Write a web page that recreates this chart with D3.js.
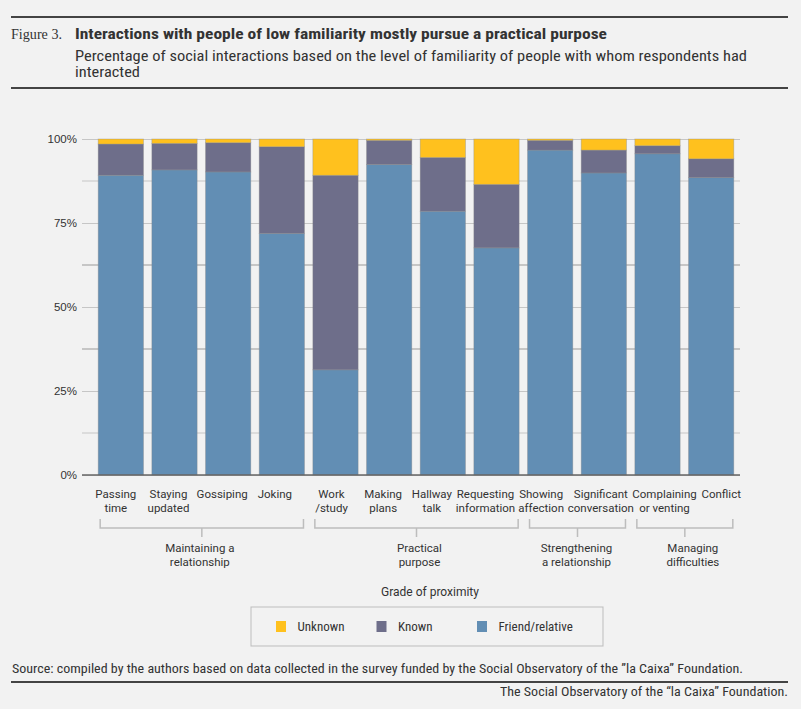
<!DOCTYPE html>
<html>
<head>
<meta charset="utf-8">
<script src="https://cdn.jsdelivr.net/npm/d3@7"></script>
<style>
  body { margin: 0; background: #f2f2f2; }
  svg { display: block; }
</style>
</head>
<body>
<svg id="chart" width="801" height="709" viewBox="0 0 801 709"></svg>
<script>
// data (percent of interactions)
const categories = ["Passing time", "Staying updated", "Gossiping", "Joking", "Work /study", "Making plans",
  "Hallway talk", "Requesting information", "Showing affection", "Significant conversation",
  "Complaining or venting", "Conflict"];
const labelLines = [["Passing", "time"], ["Staying", "updated"], ["Gossiping"], ["Joking"], ["Work", "/study"],
  ["Making", "plans"], ["Hallway", "talk"], ["Requesting", "information"], ["Showing", "affection"],
  ["Significant", "conversation"], ["Complaining", "or venting"], ["Conflict"]];
const friendRelative = [89.2, 90.8, 90.2, 71.9, 31.3, 92.4, 78.5, 67.6, 96.7, 89.9, 95.6, 88.5];
const known = [9.3, 7.9, 8.7, 25.8, 57.9, 7.2, 16.0, 18.9, 2.9, 6.8, 2.4, 5.6];
const unknown = [1.5, 1.3, 1.1, 2.3, 10.8, 0.4, 5.5, 13.5, 0.4, 3.3, 2.0, 5.9];
const seriesNames = ["Friend/relative", "Known", "Unknown"];
const legendOrder = ["Unknown", "Known", "Friend/relative"];
const groupLabels = [["Maintaining a", "relationship"], ["Practical", "purpose"],
  ["Strengthening", "a relationship"], ["Managing", "difficulties"]];
const groupFirst = [0, 4, 8, 10];
const groupLast = [3, 7, 9, 11];
const yTicks = [0, 25, 50, 75, 100];
const yMinor = [12.5, 37.5, 62.5, 87.5];

// layout nudges so the crowded x labels don't collide (px)
const labelNudge = [-5, -6, -6, -7, -4, -6, -11, -11, -9, -3, 7, 10];
const groupNudge = [-2, 3, -1, 8];

const colors = {"Friend/relative": "#628eb4", "Known": "#6e6e8a", "Unknown": "#ffc11e"};
const condensed = "'Liberation Sans Narrow', 'Roboto Condensed', 'DejaVu Sans Condensed', sans-serif";
const plainSans = "Roboto, 'Liberation Sans', sans-serif";

const svg = d3.select("#chart");

// header
svg.append("line").attr("x1", 11).attr("x2", 788).attr("y1", 17).attr("y2", 17)
  .attr("stroke", "#444").attr("stroke-width", 2);
svg.append("line").attr("x1", 11).attr("x2", 788).attr("y1", 88).attr("y2", 88)
  .attr("stroke", "#444").attr("stroke-width", 2);

svg.append("text")
  .attr("x", 11).attr("y", 39)
  .attr("font-family", "'Liberation Serif', serif")
  .attr("font-size", "14px")
  .attr("fill", "#333")
  .attr("textLength", 51).attr("lengthAdjust", "spacingAndGlyphs")
  .text("Figure 3.");

svg.append("text")
  .attr("x", 75).attr("y", 39)
  .attr("font-family", condensed)
  .attr("font-weight", "bold")
  .attr("font-size", "15px")
  .attr("fill", "#333")
  .attr("textLength", 532).attr("lengthAdjust", "spacingAndGlyphs")
  .text("Interactions with people of low familiarity mostly pursue a practical purpose");

svg.append("text")
  .attr("x", 75).attr("y", 61)
  .attr("font-family", condensed)
  .attr("font-size", "14px")
  .attr("fill", "#333")
  .attr("textLength", 672).attr("lengthAdjust", "spacingAndGlyphs")
  .text("Percentage of social interactions based on the level of familiarity of people with whom respondents had");

svg.append("text")
  .attr("x", 75).attr("y", 77)
  .attr("font-family", condensed)
  .attr("font-size", "14px")
  .attr("fill", "#333")
  .attr("textLength", 65).attr("lengthAdjust", "spacingAndGlyphs")
  .text("interacted");

// scales
const x = d3.scaleBand()
  .domain(categories)
  .range([94, 738])
  .paddingInner(0.156)
  .paddingOuter(0.078);

const y = d3.scaleLinear().domain([0, 100]).range([475, 139]);

// grid
const gridLeft = 82, gridRight = 740;
svg.append("g").selectAll("line")
  .data(yMinor)
  .join("line")
  .attr("x1", gridLeft).attr("x2", gridRight)
  .attr("y1", d => y(d)).attr("y2", d => y(d))
  .attr("stroke", d => (d === 37.5 || d === 62.5) ? "#9a9a9a" : "#c6c6c6")
  .attr("stroke-width", 1);

const yAxis = svg.append("g")
  .attr("transform", `translate(${gridLeft},0)`)
  .call(d3.axisLeft(y).tickValues(yTicks).tickSize(-(gridRight - gridLeft)).tickFormat(d => d + "%"));
yAxis.select(".domain").remove();
yAxis.selectAll(".tick line").attr("stroke", "#c6c6c6");
yAxis.selectAll(".tick text")
  .attr("x", -5)
  .attr("fill", "#333")
  .attr("font-family", "'Liberation Sans', Arial, sans-serif")
  .attr("font-size", "11.5px");

// stacked bars
const table = categories.map((c, i) => ({
  category: c,
  "Friend/relative": friendRelative[i],
  "Known": known[i],
  "Unknown": unknown[i]
}));
const stacked = d3.stack().keys(seriesNames)(table);

svg.append("g").selectAll("g")
  .data(stacked)
  .join("g")
  .attr("fill", d => colors[d.key])
  .selectAll("rect")
  .data(d => d)
  .join("rect")
  .attr("x", d => x(d.data.category))
  .attr("width", x.bandwidth())
  .attr("y", d => y(d[1]))
  .attr("height", d => y(d[0]) - y(d[1]))
  .attr("stroke", "#8a8a8a")
  .attr("stroke-opacity", 0.45)
  .attr("stroke-width", 0.8);

// baseline
svg.append("line")
  .attr("x1", gridLeft).attr("x2", gridRight)
  .attr("y1", y(0)).attr("y2", y(0))
  .attr("stroke", "#666").attr("stroke-width", 1.5);

// x labels
const xLabels = svg.append("g")
  .attr("font-family", plainSans)
  .attr("font-size", "11.5px")
  .attr("fill", "#333")
  .attr("text-anchor", "middle");

categories.forEach((c, i) => {
  const cx = x(c) + x.bandwidth() / 2 + labelNudge[i];
  const t = xLabels.append("text")
    .attr("x", cx)
    .attr("y", 498);
  labelLines[i].forEach((line, j) => {
    t.append("tspan")
      .attr("x", cx)
      .attr("dy", j === 0 ? 0 : 14)
      .text(line);
  });
});

// group brackets
const brackets = svg.append("g");
groupLabels.forEach((lab, g) => {
  const x0 = x(categories[groupFirst[g]]) + 2;
  const x1 = x(categories[groupLast[g]]) + x.bandwidth() - 1;
  const mid = (x0 + x1) / 2;
  brackets.append("path")
    .attr("d", `M${x0},519V528H${x1}V519M${mid},528V537`)
    .attr("fill", "none")
    .attr("stroke", "#bdbdbd")
    .attr("stroke-width", 1.5);
  const t = brackets.append("text")
    .attr("font-family", plainSans)
    .attr("font-size", "11.5px")
    .attr("fill", "#333")
    .attr("text-anchor", "middle")
    .attr("y", 552);
  lab.forEach((line, j) => {
    t.append("tspan").attr("x", mid + groupNudge[g]).attr("dy", j === 0 ? 0 : 13.5).text(line);
  });
});

svg.append("text")
  .attr("x", 430).attr("y", 596)
  .attr("text-anchor", "middle")
  .attr("font-family", plainSans)
  .attr("font-size", "12px")
  .attr("fill", "#333")
  .text("Grade of proximity");

// legend
const legend = svg.append("g");
legend.append("rect")
  .attr("x", 251).attr("y", 607).attr("width", 352).attr("height", 39)
  .attr("fill", "#f2f2f2").attr("stroke", "#bdbdbd").attr("stroke-width", 1);

const legendX = d3.scalePoint().domain(legendOrder).range([276, 477]);
const legendItem = legend.selectAll("g.item")
  .data(legendOrder)
  .join("g")
  .attr("class", "item")
  .attr("transform", d => `translate(${legendX(d)},621)`);
legendItem.append("rect")
  .attr("width", 10).attr("height", 11)
  .attr("fill", d => colors[d]);
legendItem.append("text")
  .attr("x", 21.5)
  .attr("y", 9.5)
  .attr("font-family", condensed)
  .attr("font-size", "13px")
  .attr("fill", "#333")
  .text(d => d);

// source and footer
svg.append("text")
  .attr("x", 12).attr("y", 673)
  .attr("font-family", condensed)
  .attr("font-size", "12.5px")
  .attr("fill", "#333")
  .attr("textLength", 731).attr("lengthAdjust", "spacingAndGlyphs")
  .text("Source: compiled by the authors based on data collected in the survey funded by the Social Observatory of the \u201dla Caixa\u201d Foundation.");

svg.append("line").attr("x1", 11).attr("x2", 788).attr("y1", 682).attr("y2", 682)
  .attr("stroke", "#444").attr("stroke-width", 2);

svg.append("text")
  .attr("x", 788).attr("y", 696)
  .attr("text-anchor", "end")
  .attr("font-family", condensed)
  .attr("font-size", "12.5px")
  .attr("fill", "#333")
  .attr("textLength", 288).attr("lengthAdjust", "spacingAndGlyphs")
  .text("The Social Observatory of the \u201cla Caixa\u201d Foundation.");
</script>
</body>
</html>
